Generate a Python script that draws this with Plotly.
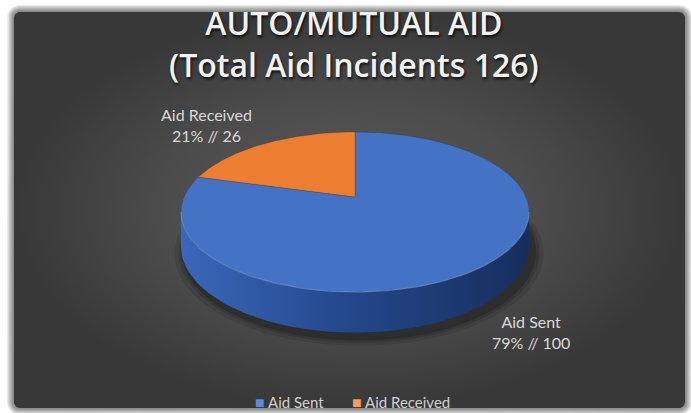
import numpy as np
import plotly.graph_objects as go

# ---- data -------------------------------------------------------------
categories = ["Aid Sent", "Aid Received"]
values = [100, 26]
top_colors = ["#4472c4", "#ed7d31"]
legend_colors = ["#5b8be0", "#f4a05a"]
side_scales = [
    [[0.0, "#3a67ba"], [0.45, "#24498e"], [1.0, "#172d5c"]],
    [[0.0, "#d8702a"], [0.45, "#b25a1f"], [1.0, "#8a4416"]],
]
title_lines = ["AUTO/MUTUAL AID", "(Total Aid Incidents 126)"]

# ---- canvas (pixel coordinates) --------------------------------------
W, H = 691, 413

# projected pie: centre, radii, perspective and thickness
CX, CY = 355.0, 197.0
RA, RB = 171.0, 77.2
PERSP = 0.1875
DEPTH = 33.0


def project(theta_deg, drop=0.0, r=1.0):
    """Map an angle (clockwise from 12 o'clock) on the pie rim to the screen."""
    t = np.radians(np.asarray(theta_deg, dtype=float))
    X, Z = r * np.sin(t), r * np.cos(t)
    s = 1.0 + PERSP * Z
    return CX + RA * X / s, CY - RB * Z / s + drop / s


def rounded_rect(x0, y0, x1, y1, rad, n=10):
    xs, ys = [], []
    corners = [(x1 - rad, y0 + rad, -90, 0), (x1 - rad, y1 - rad, 0, 90),
               (x0 + rad, y1 - rad, 90, 180), (x0 + rad, y0 + rad, 180, 270)]
    for cx, cy, a0, a1 in corners:
        a = np.radians(np.linspace(a0, a1, n))
        xs += list(cx + rad * np.cos(a))
        ys += list(cy + rad * np.sin(a))
    return xs + [xs[0]], ys + [ys[0]]


fig = go.Figure()

# soft shadow round the dark panel
PX0, PY0, PX1, PY1 = 14, 12, 685, 408
for k in range(7, 0, -1):
    xs, ys = rounded_rect(PX0 - k, PY0 - k, PX1 + k, PY1 + k, 6 + k)
    fig.add_trace(go.Scatter(x=xs, y=ys, mode="lines", fill="toself",
                             fillcolor="rgba(40,40,40,0.10)", line=dict(width=0),
                             hoverinfo="skip", showlegend=False))

# dark panel with radial shading
xs, ys = rounded_rect(PX0, PY0, PX1, PY1, 6)
fig.add_trace(go.Scatter(
    x=xs, y=ys, mode="lines", fill="toself", line=dict(width=0),
    fillgradient=dict(type="radial",
                      colorscale=[[0, "#5a5a5a"], [0.55, "#4c4c4c"], [1, "#383838"]]),
    hoverinfo="skip", showlegend=False))

# slice angles
total = float(sum(values))
starts = np.concatenate([[0.0], np.cumsum(values)[:-1]]) / total * 360.0
ends = np.cumsum(values) / total * 360.0

# shadow under the pie
th = np.linspace(0, 360, 181)
for grow, alpha in [(10, 0.10), (6, 0.14), (3, 0.18)]:
    sx, sy = project(th, drop=DEPTH + 3, r=1.0 + grow / RA)
    fig.add_trace(go.Scatter(x=sx + 4, y=sy + 2, mode="lines", fill="toself",
                             fillcolor=f"rgba(0,0,0,{alpha})", line=dict(width=0),
                             hoverinfo="skip", showlegend=False))

# visible wall: front half of the rim between the two silhouette points
vis0 = np.degrees(np.arccos(-PERSP))
vis1 = 360.0 - vis0
for i, (a0, a1) in enumerate(zip(starts, ends)):
    lo, hi = max(a0, vis0), min(a1, vis1)
    if hi <= lo:
        continue
    t = np.linspace(lo, hi, 80)
    tx, ty = project(t)
    bx, by = project(t[::-1], drop=DEPTH)
    fig.add_trace(go.Scatter(
        x=np.concatenate([tx, bx, tx[:1]]), y=np.concatenate([ty, by, ty[:1]]),
        mode="lines", fill="toself", line=dict(width=0),
        fillgradient=dict(type="horizontal", colorscale=side_scales[i]),
        hoverinfo="skip", showlegend=False))

# top face slices
for i, (a0, a1) in enumerate(zip(starts, ends)):
    t = np.linspace(a0, a1, max(int((a1 - a0) * 1.5), 8))
    tx, ty = project(t)
    fig.add_trace(go.Scatter(
        x=np.concatenate([[CX], tx, [CX]]), y=np.concatenate([[CY], ty, [CY]]),
        mode="lines", fill="toself", fillcolor=top_colors[i],
        line=dict(width=0.6, color="rgba(40,40,40,0.35)"),
        hoverinfo="skip", showlegend=False))

# light rim along the front edge
t = np.linspace(vis0, vis1, 120)
rx, ry = project(t)
fig.add_trace(go.Scatter(x=rx, y=ry, mode="lines",
                         line=dict(width=1.2, color="rgba(150,180,235,0.45)"),
                         hoverinfo="skip", showlegend=False))

# data labels
label_pos = [(531, 332), (206, 125)]
for name, v, (lx, ly) in zip(categories, values, label_pos):
    pct = round(v / total * 100)
    fig.add_annotation(x=lx, y=ly, xref="x", yref="y", showarrow=False,
                       text=f"{name}<br>{pct}% // {v}", align="center",
                       font=dict(family="Lato", size=16, color="#d9d9d9"))

# legend: colour swatch followed by series name
legend_x = [253, 350]
for name, col, lx in zip(categories, legend_colors, legend_x):
    fig.add_annotation(x=lx, y=401, xref="x", yref="y", showarrow=False,
                       xanchor="left",
                       text=f"<span style='color:{col};font-size:16px'>■</span> {name}",
                       font=dict(family="Lato", size=15, color="#d0d0d0"))

# two-line title
fig.add_annotation(x=354, y=43, xref="x", yref="y", showarrow=False,
                   text="<br>".join(title_lines), align="center",
                   font=dict(family="Open Sans", size=32, weight=600,
                             color="#f2f2f2",
                             shadow="1px 2px 3px rgba(0,0,0,0.8)"))

fig.update_layout(
    width=W, height=H, margin=dict(l=0, r=0, t=0, b=0),
    paper_bgcolor="white", plot_bgcolor="white",
    xaxis=dict(range=[0, W], visible=False, fixedrange=True),
    yaxis=dict(range=[H, 0], visible=False, fixedrange=True),
    showlegend=False,
)

fig.write_html("out.html")
